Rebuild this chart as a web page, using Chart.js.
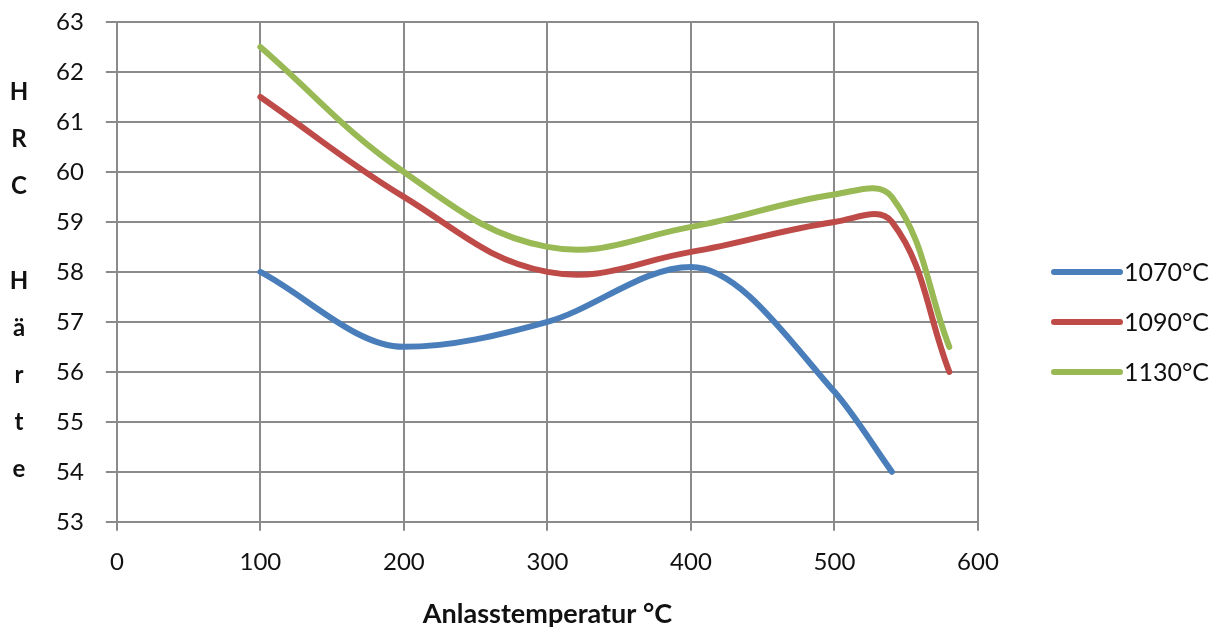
<!DOCTYPE html>
<html>
<head>
<meta charset="utf-8">
<script src="https://cdn.jsdelivr.net/npm/chart.js@4.4.0/dist/chart.umd.min.js"></script>
<style>
  html, body { margin: 0; padding: 0; background: #fff; }
  #wrap { width: 1230px; height: 630px; }
</style>
</head>
<body>
<div id="wrap"><canvas id="Hardness"></canvas></div>
<script>
// Anlasstemperatur (x) and HRC values per hardening temperature
const temps1070 = [100, 200, 300, 400, 500, 540];
const hrc1070 = [58, 56.5, 57, 58.1, 55.6, 54];

const temps1090 = [100, 200, 300, 400, 500, 540, 580];
const hrc1090 = [61.5, 59.5, 58, 58.4, 59, 59, 56];

const temps1130 = [100, 200, 300, 400, 500, 540, 580];
const hrc1130 = [62.5, 60, 58.5, 58.9, 59.55, 59.5, 56.5];

const seriesLabels = ['1070°C', '1090°C', '1130°C'];
const seriesColors = ['#4a7ebb', '#be4b48', '#98b954'];
const yTitleLetters = ['H', 'R', 'C', '', 'H', 'ä', 'r', 't', 'e'];

const FONT = 'Lato, "Liberation Sans", sans-serif';

const toPoints = (xs, ys) => xs.map((x, i) => ({ x: x, y: ys[i] }));

const Hardness = document.getElementById('Hardness');

// stacked letters for the y axis title + legend on the right, like the original
const sideText = {
    id: 'sideText',
    afterDraw(chart) {
        const ctx = chart.ctx;
        const area = chart.chartArea;
        ctx.save();
        ctx.font = 'bold 24px ' + FONT;
        ctx.fillStyle = '#111';
        ctx.textAlign = 'center';
        ctx.textBaseline = 'middle';
        yTitleLetters.forEach((ch, i) => {
            if (ch) ctx.fillText(ch, 19, area.top + 70 + i * 47.2);
        });

        // legend
        ctx.font = '25px ' + FONT;
        ctx.textAlign = 'left';
        ctx.lineWidth = 6;
        ctx.lineCap = 'round';
        chart.data.datasets.forEach((ds, i) => {
            const y = area.top + 250 + i * 50;
            const x0 = area.right + 76;
            ctx.strokeStyle = ds.borderColor;
            ctx.beginPath();
            ctx.moveTo(x0, y);
            ctx.lineTo(x0 + 66, y);
            ctx.stroke();
            ctx.fillText(ds.label, x0 + 70, y + 1);
        });
        ctx.restore();
    }
};

new Chart(Hardness, {
    type: 'line',
    data: {
        datasets: [
            {
                label: seriesLabels[0],
                data: toPoints(temps1070, hrc1070),
                borderColor: seriesColors[0],
                backgroundColor: seriesColors[0],
                cubicInterpolationMode: 'monotone'
            },
            {
                label: seriesLabels[1],
                data: toPoints(temps1090, hrc1090),
                borderColor: seriesColors[1],
                backgroundColor: seriesColors[1]
            },
            {
                label: seriesLabels[2],
                data: toPoints(temps1130, hrc1130),
                borderColor: seriesColors[2],
                backgroundColor: seriesColors[2]
            }
        ]
    },
    options: {
        responsive: true,
        maintainAspectRatio: false,
        animation: false,
        devicePixelRatio: 1,
        layout: {
            padding: { left: 34, right: 252, top: 0, bottom: 0 }
        },
        elements: {
            line: { borderWidth: 6, tension: 0.4, borderCapStyle: 'round' },
            point: { radius: 0 }
        },
        scales: {
            x: {
                type: 'linear',
                min: 0,
                max: 600,
                ticks: {
                    stepSize: 100,
                    padding: 17,
                    color: '#111',
                    font: { family: FONT, size: 24 }
                },
                grid: { color: '#8a8a8a', lineWidth: 2, tickLength: 9 },
                border: { color: '#8a8a8a', width: 2 },
                title: {
                    display: true,
                    text: 'Anlasstemperatur °C',
                    color: '#111',
                    padding: { top: 4, bottom: 0 },
                    font: { family: FONT, size: 27, weight: 'bold' }
                }
            },
            y: {
                min: 53,
                max: 63,
                afterFit(scale) {
                    scale.paddingTop = 22;
                },
                ticks: {
                    stepSize: 1,
                    padding: 22,
                    color: '#111',
                    font: { family: FONT, size: 24 }
                },
                grid: { color: '#8a8a8a', lineWidth: 2, tickLength: 11 },
                border: { color: '#8a8a8a', width: 2 }
            }
        },
        plugins: {
            legend: { display: false },
            title: { display: false },
            tooltip: { enabled: false }
        }
    },
    plugins: [sideText]
});
</script>
</body>
</html>
